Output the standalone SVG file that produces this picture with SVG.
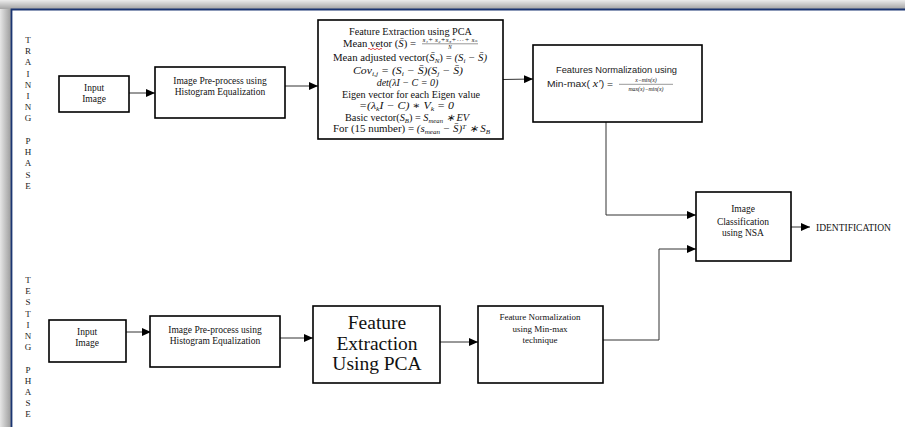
<svg xmlns="http://www.w3.org/2000/svg" width="905" height="427" viewBox="0 0 905 427">
<defs>
<linearGradient id="gTop" x1="0" y1="0" x2="0" y2="1"><stop offset="0" stop-color="#ececec"/><stop offset="1" stop-color="#a4a4a4"/></linearGradient>
<linearGradient id="gLeft" x1="0" y1="0" x2="1" y2="0"><stop offset="0" stop-color="#e6e6e6"/><stop offset="1" stop-color="#9c9c9c"/></linearGradient>
<marker id="ah" markerWidth="9" markerHeight="8" refX="9" refY="4" orient="auto" markerUnits="userSpaceOnUse"><path d="M0,0 L9,4 L0,8 Z" fill="#000"/></marker>
<style>
.box{fill:#fff;stroke:#000;stroke-width:1.6}
.con{fill:none;stroke:#333;stroke-width:1}
.t{font-family:"Liberation Serif","Times New Roman",serif;fill:#111}
.s{font-family:"Liberation Sans",Arial,sans-serif;fill:#222}
.m{font-family:"Liberation Serif","DejaVu Serif",serif;font-style:italic;fill:#111}
.r{font-style:normal}
.i{font-style:italic}
.sb{font-size:6.5px}
.v{font-family:"Liberation Serif",serif;font-size:9px;fill:#222;text-anchor:middle}
</style>
</defs>
<rect x="0" y="0" width="905" height="427" fill="#fff"/>
<rect x="0" y="0" width="905" height="9" fill="url(#gTop)"/>
<rect x="0" y="9" width="11" height="418" fill="url(#gLeft)"/>
<path d="M11.5,427 V9.5 H905" fill="none" stroke="#1b3572" stroke-width="1.8"/>

<g id="phase-labels">
<text class="v" x="28"><tspan x="28" y="43">T</tspan><tspan x="28" y="54.2">R</tspan><tspan x="28" y="65.4">A</tspan><tspan x="28" y="76.6">I</tspan><tspan x="28" y="87.8">N</tspan><tspan x="28" y="99">I</tspan><tspan x="28" y="110.2">N</tspan><tspan x="28" y="121.4">G</tspan><tspan x="28" y="144">P</tspan><tspan x="28" y="155.2">H</tspan><tspan x="28" y="166.4">A</tspan><tspan x="28" y="177.6">S</tspan><tspan x="28" y="188.8">E</tspan></text>
<text class="v" x="28"><tspan x="28" y="283">T</tspan><tspan x="28" y="294.2">E</tspan><tspan x="28" y="305.4">S</tspan><tspan x="28" y="316.6">T</tspan><tspan x="28" y="327.8">I</tspan><tspan x="28" y="339">N</tspan><tspan x="28" y="350.2">G</tspan><tspan x="28" y="372.6">P</tspan><tspan x="28" y="383.8">H</tspan><tspan x="28" y="395">A</tspan><tspan x="28" y="406.2">S</tspan><tspan x="28" y="417.4">E</tspan></text>
</g>

<g id="connectors">
<line class="con" x1="129" y1="93" x2="155" y2="93" marker-end="url(#ah)"/>
<line class="con" x1="285" y1="86" x2="318" y2="86" marker-end="url(#ah)"/>
<line class="con" x1="503" y1="79.5" x2="533" y2="79" marker-end="url(#ah)"/>
<polyline class="con" points="606,122 606,215 696,215" marker-end="url(#ah)"/>
<line class="con" x1="791" y1="227" x2="810" y2="227" marker-end="url(#ah)"/>
<line class="con" x1="126" y1="332" x2="151" y2="332" marker-end="url(#ah)"/>
<line class="con" x1="280" y1="338" x2="313" y2="338" marker-end="url(#ah)"/>
<line class="con" x1="440" y1="342" x2="478" y2="342" marker-end="url(#ah)"/>
<polyline class="con" points="603,340 659,340 659,249 696,249" marker-end="url(#ah)"/>
</g>

<g id="train-input">
<rect class="box" x="59" y="76" width="70" height="36"/>
<text class="t" font-size="9.5" text-anchor="middle"><tspan x="94" y="91">Input</tspan><tspan x="94" y="102">Image</tspan></text>
</g>

<g id="train-preprocess">
<rect class="box" x="155" y="67" width="130" height="51"/>
<text class="t" font-size="9.5" text-anchor="middle"><tspan x="220" y="84">Image Pre-process using</tspan><tspan x="220" y="95">Histogram Equalization</tspan></text>
</g>

<g id="train-pca">
<rect class="box" x="318" y="20" width="185" height="119"/>
<text class="t" font-size="10" x="349" y="34.5" textLength="123" lengthAdjust="spacingAndGlyphs">Feature Extraction using PCA</text>
<text class="t" font-size="10" x="343" y="46.5" textLength="73" lengthAdjust="spacingAndGlyphs">Mean vetor (<tspan class="i">S̄</tspan>) =</text>
<path d="M368,49 q1,-1.4 2,0 t2,0 t2,0 t2,0 t2,0 t2,0 t2,0" fill="none" stroke="#e02020" stroke-width="0.8"/>
<text class="m" font-size="5.6" x="450" y="41.5" text-anchor="middle" textLength="55" lengthAdjust="spacingAndGlyphs">s₁+ s₂+s₃+⋯+ sₙ</text>
<line x1="422" y1="43.8" x2="478" y2="43.8" stroke="#333" stroke-width="0.5"/>
<text class="m" font-size="5.2" x="450" y="49" text-anchor="middle">N</text>
<text class="t" font-size="10" x="333" y="61" textLength="154" lengthAdjust="spacingAndGlyphs">Mean adjusted vector(<tspan class="i">S̄</tspan><tspan class="i sb" dy="2">N</tspan><tspan dy="-2">) = </tspan><tspan class="i"> (S</tspan><tspan class="i sb" dy="2">i</tspan><tspan class="i" dy="-2"> − S̄)</tspan></text>
<text class="m" font-size="10" x="353" y="74" textLength="110" lengthAdjust="spacingAndGlyphs">Cov<tspan class="sb" dy="2">i,j</tspan><tspan dy="-2"> = (S</tspan><tspan class="sb" dy="2">i</tspan><tspan dy="-2"> − S̄)(S</tspan><tspan class="sb" dy="2">j</tspan><tspan dy="-2"> − S̄)</tspan></text>
<text class="m" font-size="10" x="407.5" y="85.5" text-anchor="middle">det(λI − C = 0)</text>
<text class="t" font-size="10" x="342" y="97.5" textLength="138" lengthAdjust="spacingAndGlyphs">Eigen vector for each Eigen value</text>
<text class="m" font-size="10" x="359" y="108.5" textLength="95" lengthAdjust="spacingAndGlyphs">=(λ<tspan class="sb" dy="2">k</tspan><tspan dy="-2">I − C) ∗ V</tspan><tspan class="sb" dy="2">k</tspan><tspan dy="-2"> = 0</tspan></text>
<text class="t" font-size="10" x="345" y="120.5" textLength="124" lengthAdjust="spacingAndGlyphs">Basic vector(<tspan class="i">S</tspan><tspan class="i sb" dy="2">B</tspan><tspan dy="-2">) = </tspan><tspan class="i"> S</tspan><tspan class="i sb" dy="2">mean</tspan><tspan class="i" dy="-2"> ∗ EV</tspan></text>
<text class="t" font-size="10" x="333" y="131.5" textLength="157" lengthAdjust="spacingAndGlyphs">For (15 number) = <tspan class="i">(s</tspan><tspan class="i sb" dy="2">mean</tspan><tspan class="i" dy="-2"> − S̄)</tspan><tspan class="i sb" dy="-3">T</tspan><tspan class="i" dy="3"> ∗ S</tspan><tspan class="i sb" dy="2">B</tspan></text>
</g>

<g id="train-normalization">
<rect class="box" x="533" y="45" width="169" height="77"/>
<text class="s" font-size="8.6" x="556" y="73" textLength="121" lengthAdjust="spacingAndGlyphs">Features Normalization using</text>
<text class="s" font-size="8.6" x="547" y="86.5" textLength="66" lengthAdjust="spacingAndGlyphs">Min-max( <tspan class="m" font-size="10">x′</tspan>) =</text>
<text class="m" font-size="5.8" x="646" y="82" text-anchor="middle">x−min(x)</text>
<line x1="619" y1="84.3" x2="673" y2="84.3" stroke="#333" stroke-width="0.5"/>
<text class="m" font-size="5.8" x="646" y="90.5" text-anchor="middle">max(x)−min(x)</text>
</g>

<g id="classification">
<rect class="box" x="696" y="192" width="95" height="69"/>
<text class="t" font-size="9.5" text-anchor="middle"><tspan x="743" y="212">Image</tspan><tspan x="743" y="224.5">Classification</tspan><tspan x="743" y="236">using NSA</tspan></text>
</g>

<g id="identification">
<text class="t" font-size="9.5" x="816" y="230.5">IDENTIFICATION</text>
</g>

<g id="test-input">
<rect class="box" x="49" y="320" width="77" height="42"/>
<text class="t" font-size="9.5" text-anchor="middle"><tspan x="87" y="335">Input</tspan><tspan x="87" y="346">Image</tspan></text>
</g>

<g id="test-preprocess">
<rect class="box" x="150" y="316" width="130" height="51"/>
<text class="t" font-size="9.5" text-anchor="middle"><tspan x="215" y="333">Image Pre-process using</tspan><tspan x="215" y="344">Histogram Equalization</tspan></text>
</g>

<g id="test-pca">
<rect class="box" x="313" y="306" width="127" height="77"/>
<text class="t" font-size="19.5" text-anchor="middle"><tspan x="377" y="328.5">Feature</tspan><tspan x="377" y="349.5">Extraction</tspan><tspan x="377" y="369.5">Using PCA</tspan></text>
</g>

<g id="test-normalization">
<rect class="box" x="478" y="306" width="125" height="77"/>
<text class="t" font-size="9" text-anchor="middle"><tspan x="540" y="320">Feature Normalization</tspan><tspan x="540" y="332">using Min-max</tspan><tspan x="540" y="343">technique</tspan></text>
</g>
</svg>
